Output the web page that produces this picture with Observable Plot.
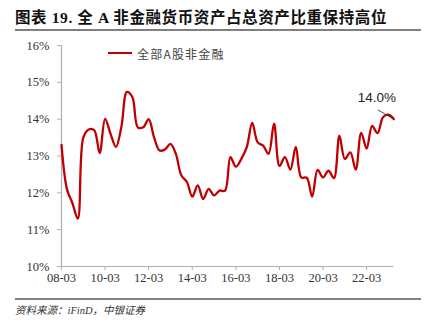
<!DOCTYPE html>
<html>
<head>
<meta charset="utf-8">
<script src="https://cdn.jsdelivr.net/npm/d3@7"></script>
<script src="https://cdn.jsdelivr.net/npm/@observablehq/plot@0.6"></script>
<style>
  html, body { margin: 0; padding: 0; background: #fff; }
  #wrap { position: relative; width: 425px; height: 325px; overflow: hidden; font-family: "Liberation Serif", "Noto Sans CJK SC", serif; }
  #title { position: absolute; left: 15px; top: 8px; font-size: 15.5px; line-height: 20px; font-weight: bold; color: #111; letter-spacing: 0.6px; white-space: nowrap; font-family: "Liberation Serif", "Noto Sans CJK SC", serif; }
  #tline { position: absolute; left: 15px; top: 29px; width: 406px; height: 2px; background: #7f7f7f; }
  #chart { position: absolute; left: 0; top: 32px; }
  #legend { position: absolute; left: 108px; top: 45px; height: 16px; display: flex; align-items: center; font-size: 12px; color: #444; letter-spacing: 1.2px; white-space: nowrap; font-family: "Noto Sans CJK SC", sans-serif; }
  #legend .sw { width: 24px; height: 2.2px; background: #c00000; margin-right: 5px; }
  #bline { position: absolute; left: 15px; top: 298px; width: 406px; height: 2px; background: #7f7f7f; }
  #source { position: absolute; left: 15px; top: 304px; font-size: 10.5px; line-height: 14px; font-style: italic; color: #333; white-space: nowrap; }
</style>
</head>
<body>
<div id="wrap">
  <div id="title">图表 19. 全 A 非金融货币资产占总资产比重保持高位</div>
  <div id="tline"></div>
  <div id="chart"></div>
  <div id="legend"><div class="sw"></div><span>全部A股非金融</span></div>
  <div id="bline"></div>
  <div id="source">资料来源：iFinD，中银证券</div>
</div>
<script>
// Quarterly share (%) of monetary assets in total assets, 2008Q1 .. 2023Q2
const shareValues = [
  13.30, 12.10, 11.72, 11.30, 13.50, 13.72, 13.70, 13.08,
  14.01, 13.60, 13.25, 13.80, 14.74, 14.60, 13.78, 13.78,
  14.00, 13.50, 13.15, 13.18, 13.33, 13.05, 12.47, 12.30,
  11.90, 12.20, 11.83, 12.11, 11.93, 12.06, 12.06, 12.97,
  12.71, 12.92, 13.24, 13.90, 13.37, 13.28, 13.06, 13.88,
  12.73, 12.97, 12.63, 13.25, 12.42, 12.41, 11.90, 12.62,
  12.42, 12.60, 12.40, 13.55, 12.92, 13.10, 12.63, 13.63,
  13.20, 13.82, 13.62, 14.05, 14.12, 14.00
];
const xTickLabels = ["08-03", "10-03", "12-03", "14-03", "16-03", "18-03", "20-03", "22-03"];
const yTicks = [10, 11, 12, 13, 14, 15, 16];
const seriesName = "全部A股非金融";

const data = shareValues.map((v, i) => ({i, v}));
const last = data[data.length - 1];
const xTicks = xTickLabels.map((_, k) => k * 8);

const chart = Plot.plot({
  width: 425,
  height: 265,
  marginTop: 13,
  marginBottom: 31,
  marginLeft: 61,
  marginRight: 31.6,
  style: {fontFamily: "'Liberation Serif', 'Times New Roman', serif", fontSize: "12.5px", background: "transparent", color: "#333"},
  x: {domain: [0, shareValues.length - 1]},
  y: {domain: [10, 16]},
  marks: [
    Plot.ruleY([10], {stroke: "#b0b0b0", strokeWidth: 1.2}),
    Plot.ruleX([0], {stroke: "#b0b0b0", strokeWidth: 1.2}),
    Plot.axisX({ticks: xTicks, tickFormat: (d) => xTickLabels[d / 8], tickSize: 4, tickPadding: 3, stroke: "#b0b0b0", fill: "#333", label: null}),
    Plot.axisY({ticks: yTicks, tickFormat: (d) => d + "%", tickSize: 4, tickPadding: 8, stroke: "#b0b0b0", fill: "#333", label: null}),
    Plot.line(data, {x: "i", y: "v", stroke: "#c00000", strokeWidth: 2.3, curve: "catmull-rom"}),
    Plot.vector([last], {
      x: "i", y: "v", length: 18, rotate: -60, anchor: "start", stroke: "#333", strokeWidth: 0.8,
      shape: {draw(context, l) { context.moveTo(0, -2); context.lineTo(0, -l); }}
    }),
    Plot.text([last], {x: "i", y: "v", text: (d) => d.v.toFixed(1) + "%", dx: -17, dy: -21, fill: "#222", fontSize: 13.5, fontFamily: "'Liberation Sans', Arial, sans-serif"})
  ]
});
document.getElementById("chart").appendChild(chart);
</script>
</body>
</html>
